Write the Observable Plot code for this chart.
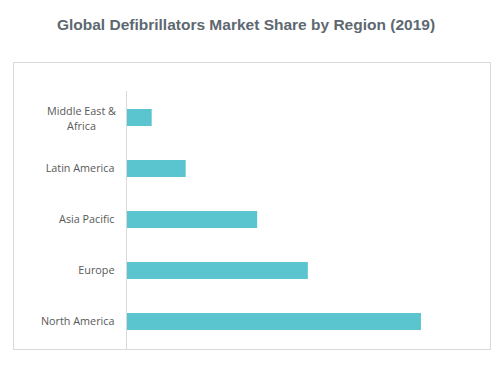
<!DOCTYPE html>
<html>
<head>
<meta charset="utf-8">
<script src="https://cdn.jsdelivr.net/npm/d3@7"></script>
<script src="https://cdn.jsdelivr.net/npm/@observablehq/plot@0.6"></script>
<style>
  html, body { margin: 0; padding: 0; background: #fff; }
  #wrap { position: relative; width: 500px; height: 366px; overflow: hidden; }
  #title { position: absolute; left: 0; top: 16px; width: 492px; text-align: center;
    font-family: "Liberation Sans", Arial, sans-serif; font-weight: bold; font-size: 15.5px; color: #5d6871; }
  #box { position: absolute; left: 13px; top: 62px; width: 476px; height: 286px; border: 1px solid #d9d9d9; }
  #chart { position: absolute; left: 0; top: 0; }
</style>
</head>
<body>
<div id="wrap">
  <div id="box"></div>
  <div id="chart"></div>
  <div id="title">Global Defibrillators Market Share by Region (2019)</div>
</div>
<script>
const regions = ["Middle East & Africa", "Latin America", "Asia Pacific", "Europe", "North America"];
const shares = [3.7, 8.6, 18.9, 26.2, 42.5];
const wrappedLabels = {"Middle East & Africa": "Middle East &\nAfrica"};

const data = regions.map((r, i) => ({region: r, share: shares[i]}));
const font = "'Open Sans', 'DejaVu Sans', sans-serif";

const chart = Plot.plot({
  width: 500,
  height: 366,
  marginTop: 91,
  marginBottom: 17,
  marginLeft: 126,
  marginRight: 27,
  style: {background: "transparent", fontFamily: font},
  x: {domain: [0, 50], axis: null},
  y: {domain: regions, axis: null, paddingInner: 0.66, paddingOuter: 0.33},
  marks: [
    Plot.barX(data, {x: "share", y: "region", fill: "#5bc5cf"}),
    Plot.ruleX([0], {stroke: "#d9d9d9", strokeWidth: 1}),
    Plot.text(data.filter(d => !wrappedLabels[d.region]), {
      x: () => 0, y: "region", text: "region", textAnchor: "end", dx: -12,
      fontSize: 10.8, fill: "#595959"
    }),
    Plot.text(data.filter(d => wrappedLabels[d.region]), {
      x: () => 0, y: "region", text: d => wrappedLabels[d.region], textAnchor: "middle", dx: -45,
      fontSize: 10.8, fill: "#595959", lineHeight: 1.32
    })
  ]
});
document.getElementById("chart").appendChild(chart);
</script>
</body>
</html>
